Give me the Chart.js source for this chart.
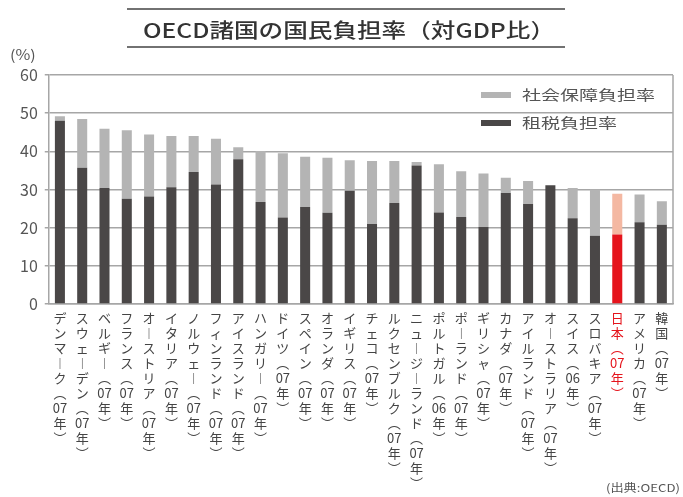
<!DOCTYPE html>
<html>
<head>
<meta charset="utf-8">
<script src="https://cdn.jsdelivr.net/npm/chart.js@4.4.1/dist/chart.umd.min.js"></script>
<style>
  html, body { margin: 0; padding: 0; background: #ffffff; }
  #wrap { position: relative; width: 683px; height: 497px; }
</style>
</head>
<body>
<div id="wrap"><canvas id="c" width="683" height="497"></canvas></div>
<script>
// ---- data ----
const categories = [
  "デンマーク(07年)", "スウェーデン(07年)", "ベルギー(07年)", "フランス(07年)",
  "オーストリア(07年)", "イタリア(07年)", "ノルウェー(07年)", "フィンランド(07年)",
  "アイスランド(07年)", "ハンガリー(07年)", "ドイツ(07年)", "スペイン(07年)",
  "オランダ(07年)", "イギリス(07年)", "チェコ(07年)", "ルクセンブルク(07年)",
  "ニュージーランド(07年)", "ポルトガル(06年)", "ポーランド(07年)", "ギリシャ(07年)",
  "カナダ(07年)", "アイルランド(07年)", "オーストラリア(07年)", "スイス(06年)",
  "スロバキア(07年)", "日本(07年)", "アメリカ(07年)", "韓国(07年)"
];
const taxBurden = [
  48.0, 35.7, 30.4, 27.6, 28.2, 30.6, 34.6, 31.3, 37.9, 26.7, 22.7, 25.4, 23.9, 29.7,
  21.0, 26.5, 36.3, 24.0, 22.8, 20.2, 29.1, 26.2, 31.1, 22.5, 17.9, 18.2, 21.4, 20.8
];
const socialBurden = [
  1.2, 12.8, 15.5, 17.9, 16.2, 13.4, 9.4, 12.0, 3.2, 13.4, 16.8, 13.2, 14.4, 8.0,
  16.5, 11.0, 0.9, 12.6, 12.0, 14.0, 4.0, 6.0, 0.0, 7.9, 12.1, 10.7, 7.3, 6.1
];
const highlightCategory = "日本(07年)";
const yTicks = [0, 10, 20, 30, 40, 50, 60];
const titleText = "OECD諸国の国民負担率（対GDP比）";
const seriesNames = ["社会保障負担率", "租税負担率"];
const unitText = "(%)";
const sourceText = "(出典:OECD)";

// ---- styling ----
const DARK = "#4a4747", LIGHT = "#b4b4b4";
const RED = "#e5141c", PINK = "#f4b8a2";
const GRID = "#a6a6a6";
const FONT = '"Noto Sans CJK JP", "Noto Sans", sans-serif';
const hiIndex = categories.indexOf(highlightCategory);

function verticalize(s) {
  const out = [];
  let i = 0;
  while (i < s.length) {
    const c = s[i];
    if (/\d/.test(c)) {
      let j = i;
      while (j < s.length && /\d/.test(s[j])) j++;
      out.push(s.slice(i, j));
      i = j;
      continue;
    }
    out.push(c === "(" ? "︵" : c === ")" ? "︶" : c === "ー" ? "︱" : c);
    i++;
  }
  return out;
}

function stretchedText(ctx, text, x, y, sx, align) {
  ctx.save();
  ctx.translate(x, y);
  ctx.scale(sx, 1);
  ctx.textAlign = align;
  ctx.fillText(text, 0, 0);
  ctx.restore();
}

const decor = {
  id: "decor",
  beforeDraw(chart) {
    const ctx = chart.ctx;
    ctx.save();
    ctx.fillStyle = "#ffffff";
    ctx.fillRect(0, 0, chart.width, chart.height);
    ctx.restore();
  },
  afterDraw(chart) {
    const ctx = chart.ctx;
    const a = chart.chartArea;
    ctx.save();
    // right frame
    ctx.strokeStyle = GRID;
    ctx.lineWidth = 1.5;
    ctx.beginPath();
    ctx.moveTo(a.right, a.top);
    ctx.lineTo(a.right, a.bottom);
    ctx.stroke();

    // title with rules
    ctx.strokeStyle = "#444";
    ctx.lineWidth = 1.5;
    ctx.beginPath();
    ctx.moveTo(127, 9); ctx.lineTo(565, 9);
    ctx.moveTo(127, 47); ctx.lineTo(565, 47);
    ctx.stroke();
    ctx.fillStyle = "#333";
    ctx.font = "500 20px " + FONT;
    ctx.textBaseline = "middle";
    let w = ctx.measureText(titleText).width;
    stretchedText(ctx, titleText, 349, 30, 412 / w, "center");

    // unit
    ctx.fillStyle = "#555";
    ctx.font = "14px " + FONT;
    stretchedText(ctx, unitText, 10, 55, 1.15, "left");

    // legend
    ctx.font = "14px " + FONT;
    const lw = ctx.measureText(seriesNames[0]).width;
    const lsx = 133 / lw;
    ctx.fillStyle = LIGHT;
    ctx.fillRect(481, 92, 30, 6);
    ctx.fillStyle = DARK;
    ctx.fillRect(481, 120, 30, 6);
    ctx.fillStyle = "#555";
    stretchedText(ctx, seriesNames[0], 522, 95, lsx, "left");
    stretchedText(ctx, seriesNames[1], 522, 123, lsx, "left");

    // source
    ctx.font = "11px " + FONT;
    ctx.fillStyle = "#555";
    stretchedText(ctx, sourceText, 680, 488, 1.2, "right");
    ctx.restore();
  }
};

new Chart(document.getElementById("c"), {
  type: "bar",
  data: {
    labels: categories.map(verticalize),
    datasets: [
      {
        label: seriesNames[1],
        data: taxBurden,
        backgroundColor: categories.map((_, i) => i === hiIndex ? RED : DARK),
        barPercentage: 0.45,
        categoryPercentage: 1.0
      },
      {
        label: seriesNames[0],
        data: socialBurden,
        backgroundColor: categories.map((_, i) => i === hiIndex ? PINK : LIGHT),
        barPercentage: 0.45,
        categoryPercentage: 1.0
      }
    ]
  },
  options: {
    responsive: false,
    animation: false,
    layout: { padding: { top: 75, left: 13, right: 10, bottom: 0 } },
    plugins: {
      legend: { display: false },
      title: { display: false },
      tooltip: { enabled: false }
    },
    scales: {
      x: {
        stacked: true,
        grid: { display: false, drawTicks: false },
        border: { display: true, color: GRID, width: 1.5 },
        ticks: {
          autoSkip: false,
          maxRotation: 0,
          minRotation: 0,
          padding: 6,
          color: (c) => c.index === hiIndex ? RED : "#444",
          font: { family: FONT, size: 13, lineHeight: 1.16 }
        }
      },
      y: {
        stacked: true,
        min: 0,
        max: 60,
        afterBuildTicks: (scale) => { scale.ticks = yTicks.map(v => ({ value: v })); },
        grid: { color: GRID, lineWidth: 1.5, tickLength: 4 },
        border: { display: true, color: GRID, width: 1.5 },
        ticks: {
          padding: 7,
          color: "#555",
          font: { family: FONT, size: 16 }
        }
      }
    }
  },
  plugins: [decor]
});
</script>
</body>
</html>
